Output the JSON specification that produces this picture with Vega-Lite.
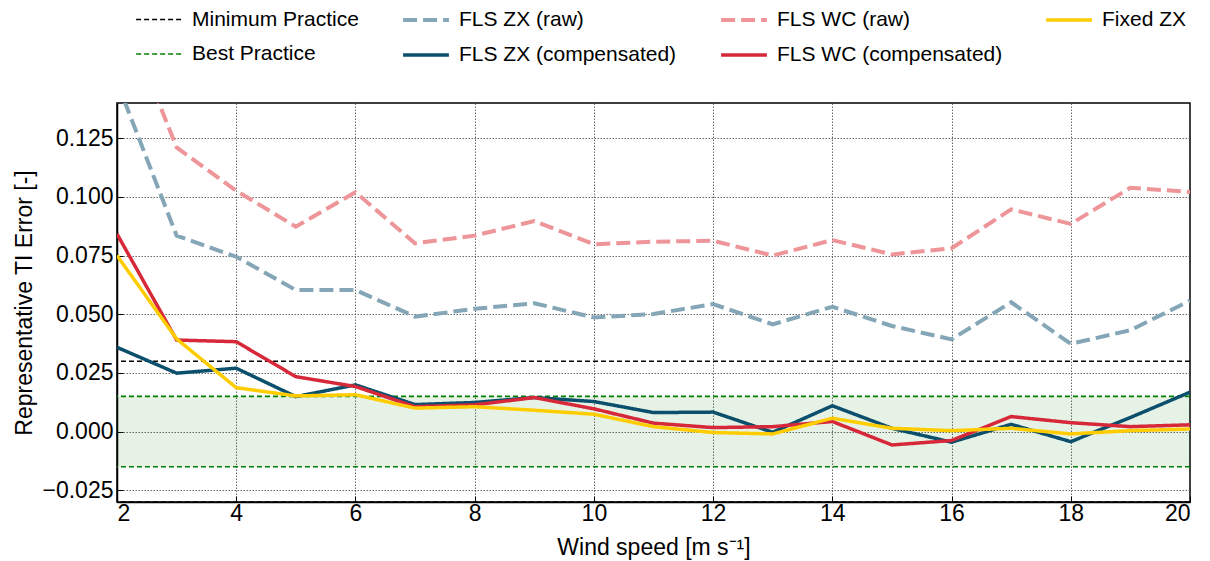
{
  "$schema": "https://vega.github.io/schema/vega-lite/v6.json",
  "width": 1073,
  "height": 399,
  "autosize": {"type": "none"},
  "padding": {"left": 117, "top": 103, "right": 20, "bottom": 59},
  "config": {
    "font": "Liberation Sans",
    "view": {"stroke": "#000000", "strokeWidth": 1.5},
    "axis": {
      "labelFont": "Liberation Sans",
      "titleFont": "Liberation Sans",
      "labelColor": "#000000",
      "titleColor": "#000000",
      "labelFontSize": 23,
      "titleFontSize": 23,
      "titleFontWeight": "normal",
      "domainColor": "#000000",
      "domainWidth": 1.5,
      "tickColor": "#000000",
      "tickSize": -6,
      "tickWidth": 1,
      "grid": true,
      "gridColor": "#444444",
      "gridDash": [1.5, 1.5],
      "gridWidth": 0.8,
      "gridOpacity": 1
    },
    "axisX": {"labelPadding": 6},
    "axisY": {"labelPadding": 10},
    "legend": {
      "labelFont": "Liberation Sans",
      "labelFontSize": 21,
      "labelColor": "#000000",
      "labelLimit": 400
    }
  },
  "datasets": {
    "band": [{"x": 2, "x2": 20, "y": -0.015, "y2": 0.015}],
    "thresholds": [
      {"s": "Minimum Practice", "y": 0.03},
      {"s": "Minimum Practice", "y": -0.03},
      {"s": "Best Practice", "y": 0.015},
      {"s": "Best Practice", "y": -0.015}
    ],
    "series": [
      {"s": "FLS ZX (raw)", "x": 2, "y": 0.149},
      {"s": "FLS ZX (raw)", "x": 3, "y": 0.0835},
      {"s": "FLS ZX (raw)", "x": 4, "y": 0.0745},
      {"s": "FLS ZX (raw)", "x": 5, "y": 0.0603},
      {"s": "FLS ZX (raw)", "x": 6, "y": 0.0603},
      {"s": "FLS ZX (raw)", "x": 7, "y": 0.049},
      {"s": "FLS ZX (raw)", "x": 8, "y": 0.0523},
      {"s": "FLS ZX (raw)", "x": 9, "y": 0.0547},
      {"s": "FLS ZX (raw)", "x": 10, "y": 0.0486},
      {"s": "FLS ZX (raw)", "x": 11, "y": 0.0501},
      {"s": "FLS ZX (raw)", "x": 12, "y": 0.0543},
      {"s": "FLS ZX (raw)", "x": 13, "y": 0.0457},
      {"s": "FLS ZX (raw)", "x": 14, "y": 0.0532},
      {"s": "FLS ZX (raw)", "x": 15, "y": 0.045},
      {"s": "FLS ZX (raw)", "x": 16, "y": 0.0393},
      {"s": "FLS ZX (raw)", "x": 17, "y": 0.0551},
      {"s": "FLS ZX (raw)", "x": 18, "y": 0.0374},
      {"s": "FLS ZX (raw)", "x": 19, "y": 0.0432},
      {"s": "FLS ZX (raw)", "x": 20, "y": 0.0558},
      {"s": "FLS WC (raw)", "x": 2, "y": 0.185},
      {"s": "FLS WC (raw)", "x": 3, "y": 0.1211},
      {"s": "FLS WC (raw)", "x": 4, "y": 0.1026},
      {"s": "FLS WC (raw)", "x": 5, "y": 0.0873},
      {"s": "FLS WC (raw)", "x": 6, "y": 0.102},
      {"s": "FLS WC (raw)", "x": 7, "y": 0.0802},
      {"s": "FLS WC (raw)", "x": 8, "y": 0.0835},
      {"s": "FLS WC (raw)", "x": 9, "y": 0.0897},
      {"s": "FLS WC (raw)", "x": 10, "y": 0.0798},
      {"s": "FLS WC (raw)", "x": 11, "y": 0.0809},
      {"s": "FLS WC (raw)", "x": 12, "y": 0.0813},
      {"s": "FLS WC (raw)", "x": 13, "y": 0.075},
      {"s": "FLS WC (raw)", "x": 14, "y": 0.0816},
      {"s": "FLS WC (raw)", "x": 15, "y": 0.0755},
      {"s": "FLS WC (raw)", "x": 16, "y": 0.0781},
      {"s": "FLS WC (raw)", "x": 17, "y": 0.0947},
      {"s": "FLS WC (raw)", "x": 18, "y": 0.0885},
      {"s": "FLS WC (raw)", "x": 19, "y": 0.1039},
      {"s": "FLS WC (raw)", "x": 20, "y": 0.1021},
      {"s": "FLS ZX (compensated)", "x": 2, "y": 0.0359},
      {"s": "FLS ZX (compensated)", "x": 3, "y": 0.0249},
      {"s": "FLS ZX (compensated)", "x": 4, "y": 0.027},
      {"s": "FLS ZX (compensated)", "x": 5, "y": 0.0149},
      {"s": "FLS ZX (compensated)", "x": 6, "y": 0.0199},
      {"s": "FLS ZX (compensated)", "x": 7, "y": 0.0115},
      {"s": "FLS ZX (compensated)", "x": 8, "y": 0.0124},
      {"s": "FLS ZX (compensated)", "x": 9, "y": 0.0145},
      {"s": "FLS ZX (compensated)", "x": 10, "y": 0.0128},
      {"s": "FLS ZX (compensated)", "x": 11, "y": 0.0081},
      {"s": "FLS ZX (compensated)", "x": 12, "y": 0.0083},
      {"s": "FLS ZX (compensated)", "x": 13, "y": -0.0003},
      {"s": "FLS ZX (compensated)", "x": 14, "y": 0.011},
      {"s": "FLS ZX (compensated)", "x": 15, "y": 0.0014},
      {"s": "FLS ZX (compensated)", "x": 16, "y": -0.0045},
      {"s": "FLS ZX (compensated)", "x": 17, "y": 0.0031},
      {"s": "FLS ZX (compensated)", "x": 18, "y": -0.0043},
      {"s": "FLS ZX (compensated)", "x": 19, "y": 0.006},
      {"s": "FLS ZX (compensated)", "x": 20, "y": 0.0168},
      {"s": "FLS WC (compensated)", "x": 2, "y": 0.0842},
      {"s": "FLS WC (compensated)", "x": 3, "y": 0.039},
      {"s": "FLS WC (compensated)", "x": 4, "y": 0.0383},
      {"s": "FLS WC (compensated)", "x": 5, "y": 0.0234},
      {"s": "FLS WC (compensated)", "x": 6, "y": 0.0192},
      {"s": "FLS WC (compensated)", "x": 7, "y": 0.0106},
      {"s": "FLS WC (compensated)", "x": 8, "y": 0.0114},
      {"s": "FLS WC (compensated)", "x": 9, "y": 0.0145},
      {"s": "FLS WC (compensated)", "x": 10, "y": 0.0097},
      {"s": "FLS WC (compensated)", "x": 11, "y": 0.0036},
      {"s": "FLS WC (compensated)", "x": 12, "y": 0.0017},
      {"s": "FLS WC (compensated)", "x": 13, "y": 0.0021},
      {"s": "FLS WC (compensated)", "x": 14, "y": 0.0043},
      {"s": "FLS WC (compensated)", "x": 15, "y": -0.0057},
      {"s": "FLS WC (compensated)", "x": 16, "y": -0.0038},
      {"s": "FLS WC (compensated)", "x": 17, "y": 0.0064},
      {"s": "FLS WC (compensated)", "x": 18, "y": 0.0038},
      {"s": "FLS WC (compensated)", "x": 19, "y": 0.0021},
      {"s": "FLS WC (compensated)", "x": 20, "y": 0.0029},
      {"s": "Fixed ZX", "x": 2, "y": 0.075},
      {"s": "Fixed ZX", "x": 3, "y": 0.0395},
      {"s": "Fixed ZX", "x": 4, "y": 0.0187},
      {"s": "Fixed ZX", "x": 5, "y": 0.0152},
      {"s": "Fixed ZX", "x": 6, "y": 0.0157},
      {"s": "Fixed ZX", "x": 7, "y": 0.01},
      {"s": "Fixed ZX", "x": 8, "y": 0.0106},
      {"s": "Fixed ZX", "x": 9, "y": 0.0091},
      {"s": "Fixed ZX", "x": 10, "y": 0.0074},
      {"s": "Fixed ZX", "x": 11, "y": 0.0021},
      {"s": "Fixed ZX", "x": 12, "y": -0.0004},
      {"s": "Fixed ZX", "x": 13, "y": -0.001},
      {"s": "Fixed ZX", "x": 14, "y": 0.0057},
      {"s": "Fixed ZX", "x": 15, "y": 0.0014},
      {"s": "Fixed ZX", "x": 16, "y": 0.0004},
      {"s": "Fixed ZX", "x": 17, "y": 0.0014},
      {"s": "Fixed ZX", "x": 18, "y": -0.001},
      {"s": "Fixed ZX", "x": 19, "y": 0.0004},
      {"s": "Fixed ZX", "x": 20, "y": 0.0011}
    ]
  },
  "layer": [
    {
      "data": {"name": "band"},
      "mark": {"type": "rect", "fill": "#008000", "fillOpacity": 0.1, "strokeWidth": 0},
      "encoding": {
        "x": {"field": "x", "type": "quantitative", "scale": {"domain": [2, 20], "nice": false},
          "axis": {"title": "Wind speed [m s⁻¹]", "values": [2, 4, 6, 8, 10, 12, 14, 16, 18, 20], "titlePadding": 11}},
        "x2": {"field": "x2"},
        "y": {"field": "y", "type": "quantitative", "scale": {"domain": [-0.03, 0.14], "nice": false, "zero": false},
          "axis": {"title": "Representative TI Error [-]", "values": [-0.025, 0, 0.025, 0.05, 0.075, 0.1, 0.125], "format": ".3f", "titlePadding": 6}},
        "y2": {"field": "y2"}
      }
    },
    {
      "data": {"name": "thresholds"},
      "mark": {"type": "rule"},
      "encoding": {
        "y": {"field": "y", "type": "quantitative", "scale": {"domain": [-0.03, 0.14], "nice": false, "zero": false},
          "axis": {"title": "Representative TI Error [-]", "values": [-0.025, 0, 0.025, 0.05, 0.075, 0.1, 0.125], "format": ".3f", "titlePadding": 6}},
        "color": {"field": "s", "type": "nominal",
          "scale": {"domain": ["Minimum Practice", "Best Practice", "FLS ZX (raw)", "FLS ZX (compensated)", "FLS WC (raw)", "FLS WC (compensated)", "Fixed ZX"],
                    "range": ["#000000", "#008000", "#84a6b6", "#0b4f6c", "#ed9599", "#d62839", "#ffcc00"]},
          "legend": {"title": null, "orient": "none", "legendX": 17, "legendY": -108, "columns": 4, "columnPadding": 36, "rowPadding": -16, "symbolType": "stroke", "symbolSize": 2100, "labelOffset": 8, "padding": 0}},
        "strokeDash": {"field": "s", "type": "nominal",
          "scale": {"domain": ["Minimum Practice", "Best Practice", "FLS ZX (raw)", "FLS ZX (compensated)", "FLS WC (raw)", "FLS WC (compensated)", "Fixed ZX"],
                    "range": [[5, 3], [5, 3], [14, 6], [1, 0], [14, 6], [1, 0], [1, 0]]}},
        "strokeWidth": {"field": "s", "type": "nominal",
          "scale": {"type": "ordinal", "domain": ["Minimum Practice", "Best Practice", "FLS ZX (raw)", "FLS ZX (compensated)", "FLS WC (raw)", "FLS WC (compensated)", "Fixed ZX"],
                    "range": [1.6, 1.6, 4, 3.5, 4, 3.5, 3.5]}}
      }
    },
    {
      "data": {"name": "series"},
      "mark": {"type": "line", "clip": true},
      "encoding": {
        "x": {"field": "x", "type": "quantitative", "scale": {"domain": [2, 20], "nice": false},
          "axis": {"title": "Wind speed [m s⁻¹]", "values": [2, 4, 6, 8, 10, 12, 14, 16, 18, 20], "titlePadding": 11}},
        "y": {"field": "y", "type": "quantitative", "scale": {"domain": [-0.03, 0.14], "nice": false, "zero": false},
          "axis": {"title": "Representative TI Error [-]", "values": [-0.025, 0, 0.025, 0.05, 0.075, 0.1, 0.125], "format": ".3f", "titlePadding": 6}},
        "color": {"field": "s", "type": "nominal",
          "scale": {"domain": ["Minimum Practice", "Best Practice", "FLS ZX (raw)", "FLS ZX (compensated)", "FLS WC (raw)", "FLS WC (compensated)", "Fixed ZX"],
                    "range": ["#000000", "#008000", "#84a6b6", "#0b4f6c", "#ed9599", "#d62839", "#ffcc00"]},
          "legend": {"title": null, "orient": "none", "legendX": 17, "legendY": -108, "columns": 4, "columnPadding": 36, "rowPadding": -16, "symbolType": "stroke", "symbolSize": 2100, "labelOffset": 8, "padding": 0}},
        "strokeDash": {"field": "s", "type": "nominal",
          "scale": {"domain": ["Minimum Practice", "Best Practice", "FLS ZX (raw)", "FLS ZX (compensated)", "FLS WC (raw)", "FLS WC (compensated)", "Fixed ZX"],
                    "range": [[5, 3], [5, 3], [14, 6], [1, 0], [14, 6], [1, 0], [1, 0]]}},
        "strokeWidth": {"field": "s", "type": "nominal",
          "scale": {"type": "ordinal", "domain": ["Minimum Practice", "Best Practice", "FLS ZX (raw)", "FLS ZX (compensated)", "FLS WC (raw)", "FLS WC (compensated)", "Fixed ZX"],
                    "range": [1.6, 1.6, 4, 3.5, 4, 3.5, 3.5]}}
      }
    }
  ]
}
